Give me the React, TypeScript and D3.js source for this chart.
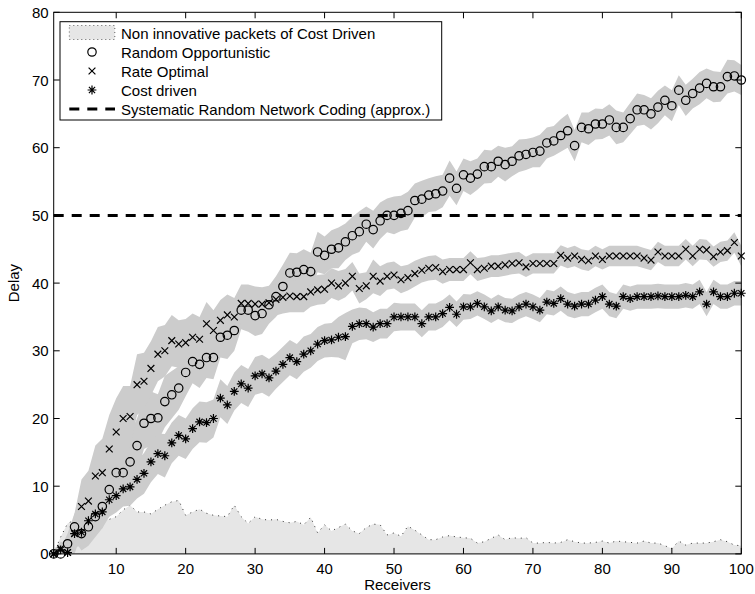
import React from "react";
import * as d3 from "d3";

const receivers = d3.range(1, 101);

const randomOpportunistic = [
  0, 0, 1.5, 4, 3, 4, 5.5, 7, 9.5, 12,
  12, 13.6, 16, 19.3, 20, 20.1, 22.5, 23.5, 24.5, 26.8,
  28.4, 28, 29, 29, 32, 32.3, 33, 36, 36, 35.2,
  35.5, 36.8, 38, 39.5, 41.5, 41.6, 42, 41.7, 44.6, 44.1,
  45, 45.2, 46.1, 47, 47.6, 48.7, 47.9, 49.2, 50, 50,
  50.3, 50.7, 52.2, 52.4, 53, 53.2, 53.6, 55.5, 54, 56,
  55.5, 56.1, 57.2, 57.2, 58, 57.5, 58, 58.8, 59, 59.3,
  59.5, 60.7, 61, 61.8, 62.5, 60.3, 63, 62.8, 63.5, 63.5,
  64.1, 63, 63, 64.3, 65.6, 65.6, 65, 66, 67, 66.2,
  68.5, 67, 68, 68.8, 69.5, 69, 69, 70.5, 70.6, 70,
];

const rateOptimal = [
  0, 0.8, 0.2, 3, 7, 7.8, 11.5, 12, 15.5, 18,
  20, 20.3, 25, 25.5, 27.4, 29.5, 30, 31.5, 31, 31.2,
  32, 31.7, 34, 33, 34.5, 35.3, 35, 37, 37, 36.9,
  36.9, 37.1, 37.6, 37.9, 38.1, 38, 38, 38.7, 39, 39.1,
  40, 39.6, 40, 41, 39.2, 39.6, 41, 40.3, 41, 41.2,
  40.5, 40.8, 41.4, 41.9, 42.2, 42.3, 41.7, 42, 42, 42,
  43, 42, 42.2, 42.5, 42.5, 42.7, 42.9, 43, 42.4, 42.9,
  42.9, 42.9, 42.9, 44.1, 43.7, 44, 43.5, 43.3, 44, 43.5,
  44, 44, 44, 44, 44, 43.7, 43.4, 44.6, 44, 44,
  44, 45, 44, 45, 44.9, 43.9, 44.6, 44.8, 46, 44,
];

const costDriven = [
  0, 0.6, 0.2, 3, 3.2, 4.9, 5.9, 6.2, 8, 8.6,
  9.6, 9.9, 11, 11.9, 13.6, 14.8, 14.5, 16.4, 17.5, 17,
  18.5, 19.5, 19.4, 20, 23, 22, 24, 25.1, 24.5, 26.3,
  26.6, 26, 27, 28, 29, 28.4, 29.5, 30, 31, 31.5,
  31.6, 32, 32.1, 33.6, 34, 34, 33.5, 34, 34, 35,
  35, 35, 35, 34, 35, 35, 35.5, 36.4, 35.4, 36.5,
  36.5, 37, 36.5, 35.9, 36.5, 36, 35.9, 36.5, 36.9, 36.5,
  36, 37.2, 37, 37.7, 36.9, 36.6, 36.9, 36.9, 37.5, 38,
  36.9, 36.6, 38, 37.7, 38, 38, 38, 38.1, 38, 38,
  38, 38.2, 38, 38.7, 36.9, 38.7, 38, 38, 38.5, 38.5,
];

const nonInnovative = [
  0, 2.5, 4.5, 5, 5.5, 5, 5, 4.9, 5.1, 5.5,
  6.5, 7.2, 6.2, 6.2, 5.9, 6.6, 7.2, 7.7, 7.9, 5.7,
  6.2, 6.6, 6, 5.7, 5.6, 5.5, 7.2, 5.5, 4.5, 5.5,
  5.1, 5, 5.1, 4.8, 4.6, 4.8, 4.3, 5.4, 3.1, 4.3,
  3.4, 3.9, 4.4, 3.4, 3.0, 3.9, 4.4, 4.3, 2.8, 3.1,
  2.6, 4.1, 3.5, 2.8, 2.1, 2.1, 2.5, 2.7, 2.5, 2.4,
  2.3, 1.6, 1.8, 2.3, 2.8, 2.1, 2.4, 2.3, 2.4, 1.6,
  1.6, 1.7, 1.6, 1.7, 2.1, 1.8, 1.6, 1.6, 1.7, 1.9,
  1.6, 1.9, 1.8, 1.7, 1.6, 1.9, 1.6, 1.6, 1.2, 0.8,
  1.9, 1.3, 1.6, 1.6, 1.6, 1.8, 2.1, 1.8, 1.3, 1.2,
];

const randomOpportunisticSpread = [
  0.3, 0.8, 1.5, 2, 2.5, 2.8, 3, 3.2, 3.5, 3.8,
  4, 4.2, 4, 3.8, 4, 3.5, 3.8, 3.5, 3.2, 3.5,
  3.2, 3.5, 3, 3.2, 3, 3.5, 3, 2.8, 3.2, 3,
  3, 2.8, 3, 3.2, 3, 2.8, 3, 2.8, 3, 2.8,
  2.8, 3, 2.7, 2.8, 3, 2.6, 2.8, 2.7, 2.5, 2.8,
  2.6, 2.8, 2.5, 2.7, 2.5, 2.6, 2.4, 2.6, 2.5, 2.4,
  2.5, 2.3, 2.5, 2.4, 2.3, 2.5, 2.2, 2.4, 2.3, 2.2,
  2.4, 2.3, 2.2, 2.4, 2.5, 2.3, 2.2, 2.4, 2.3, 2.2,
  2.3, 2.5, 2.2, 2.3, 2.4, 2.2, 2.3, 2.4, 2.2, 2.3,
  2.2, 2.3, 2.2, 2.4, 2.2, 2.3, 2.2, 2.5, 2.3, 2.2,
];

const rateOptimalSpread = [
  0.5, 1, 1.5, 3, 4, 4.5, 4.5, 5, 5, 5,
  4.8, 4.5, 4.5, 4.2, 4, 4, 3.8, 3.8, 3.5, 3.5,
  3.5, 3.3, 3.2, 3, 3, 3, 2.8, 2.8, 2.8, 2.6,
  2.5, 2.5, 2.4, 2.4, 2.4, 2.3, 2.3, 2.2, 2.2, 2.2,
  2.2, 2.2, 2.1, 2.1, 2.2, 2, 2.5, 2.2, 2, 2,
  2, 1.9, 1.9, 1.8, 1.8, 1.8, 1.8, 1.7, 1.7, 1.7,
  1.7, 1.7, 1.6, 1.6, 1.6, 1.6, 1.6, 1.6, 1.5, 1.5,
  1.5, 1.5, 1.5, 1.5, 1.5, 1.5, 1.5, 1.5, 1.5, 1.5,
  1.5, 1.5, 1.5, 1.5, 1.5, 1.5, 1.5, 1.5, 1.5, 1.5,
  1.5, 1.5, 1.5, 1.5, 1.5, 1.5, 1.5, 1.5, 1.5, 1.5,
];

const costDrivenSpread = [
  0.5, 1, 1.5, 2, 2, 2.2, 2.2, 2.4, 2.5, 2.5,
  2.6, 2.8, 2.8, 3, 3, 3, 3.2, 3, 3, 3,
  3, 3, 3, 2.8, 2.8, 2.8, 2.8, 2.8, 2.8, 2.8,
  2.8, 2.8, 2.6, 2.6, 2.6, 2.6, 2.6, 2.5, 2.5, 2.5,
  2.5, 3, 3.5, 2.5, 2.4, 2.3, 2.2, 2.2, 2.2, 2.1,
  2, 2, 2, 2, 2, 2, 2, 1.9, 1.9, 1.9,
  1.8, 1.8, 1.8, 1.8, 1.8, 1.8, 1.8, 1.8, 1.8, 1.8,
  1.8, 1.8, 1.8, 1.8, 1.8, 1.8, 1.8, 1.8, 1.8, 1.8,
  1.8, 1.8, 1.8, 1.8, 1.8, 1.8, 1.8, 1.8, 1.8, 1.8,
  1.8, 1.8, 1.8, 1.8, 1.8, 1.8, 1.8, 1.8, 1.8, 1.8,
];

const systematicRNC = 50;
const xTicks = [10, 20, 30, 40, 50, 60, 70, 80, 90, 100];
const yTicks = [0, 10, 20, 30, 40, 50, 60, 70, 80];
const legendLabels = [
  "Non innovative packets of Cost Driven",
  "Random Opportunistic",
  "Rate Optimal",
  "Cost driven",
  "Systematic Random Network Coding (approx.)",
];

const W = 755;
const H = 594;
const L = 53.7, R = 741.3, T = 12.3, B = 553.9;
const FONT = "'Liberation Sans', Arial, Helvetica, sans-serif";

export default function App() {
  const x = d3.scaleLinear().domain([1, 100]).range([L, R]);
  const y = d3.scaleLinear().domain([0, 80]).range([B, T]);

  const band = (vals: number[], sp: number[]) =>
    d3
      .area<number>()
      .x((_, i) => x(receivers[i]))
      .y0((d, i) => y(Math.max(0, d - sp[i])))
      .y1((d, i) => y(d + sp[i]))(vals) || "";

  const lightArea =
    d3
      .area<number>()
      .x((_, i) => x(receivers[i]))
      .y0(y(0))
      .y1((d) => y(d))(nonInnovative) || "";
  const lightLine =
    d3
      .line<number>()
      .x((_, i) => x(receivers[i]))
      .y((d) => y(d))(nonInnovative) || "";

  const circle = (cx: number, cy: number, k: string) => (
    <circle key={k} cx={cx} cy={cy} r={4.2} fill="none" stroke="#000" strokeWidth={1.2} />
  );
  const cross = (cx: number, cy: number, k: string) => {
    const s = 3.4;
    return (
      <path
        key={k}
        d={`M${cx - s},${cy - s}L${cx + s},${cy + s}M${cx - s},${cy + s}L${cx + s},${cy - s}`}
        stroke="#000"
        strokeWidth={1.2}
      />
    );
  };
  const star = (cx: number, cy: number, k: string) => {
    const s = 4.4;
    const d = 3.1;
    return (
      <path
        key={k}
        d={`M${cx - s},${cy}L${cx + s},${cy}M${cx},${cy - s}L${cx},${cy + s}M${cx - d},${cy - d}L${cx + d},${cy + d}M${cx - d},${cy + d}L${cx + d},${cy - d}`}
        stroke="#000"
        strokeWidth={1.2}
      />
    );
  };

  const legendY = [33, 52, 71, 90, 109];
  const legendTextX = 121;
  const legendMarkX = 92;

  return (
    <div style={{ position: "absolute", left: 0, top: 0 }}>
      <svg width={W} height={H} style={{ display: "block", background: "#fff" }}>
        <rect x={0} y={0} width={W} height={H} fill="#fff" />
        <path d={lightArea} fill="#e6e6e6" />
        <path d={lightLine} fill="none" stroke="#000" strokeWidth={0.8} strokeDasharray="1,5" />
        <path d={band(randomOpportunistic, randomOpportunisticSpread)} fill="#cccccc" />
        <path d={band(rateOptimal, rateOptimalSpread)} fill="#cccccc" />
        <path d={band(costDriven, costDrivenSpread)} fill="#cccccc" />
        <line
          x1={x(1)}
          x2={x(100)}
          y1={y(systematicRNC)}
          y2={y(systematicRNC)}
          stroke="#000"
          strokeWidth={3}
          strokeDasharray="10,8"
        />
        {randomOpportunistic.map((v, i) => circle(x(receivers[i]), y(v), "c" + i))}
        {rateOptimal.map((v, i) => cross(x(receivers[i]), y(v), "x" + i))}
        {costDriven.map((v, i) => star(x(receivers[i]), y(v), "s" + i))}

        {/* axes box */}
        <rect x={L} y={T} width={R - L} height={B - T} fill="none" stroke="#000" strokeWidth={1} />
        {xTicks.map((t) => (
          <g key={"xt" + t}>
            <line x1={x(t)} x2={x(t)} y1={B} y2={B - 6} stroke="#000" />
            <line x1={x(t)} x2={x(t)} y1={T} y2={T + 6} stroke="#000" />
            <text x={x(t)} y={574} textAnchor="middle" fontFamily={FONT} fontSize={15}>
              {t}
            </text>
          </g>
        ))}
        {yTicks.map((t) => (
          <g key={"yt" + t}>
            <line x1={L} x2={L + 6} y1={y(t)} y2={y(t)} stroke="#000" />
            <line x1={R} x2={R - 6} y1={y(t)} y2={y(t)} stroke="#000" />
            <text x={L - 5} y={y(t) + 5.5} textAnchor="end" fontFamily={FONT} fontSize={15}>
              {t}
            </text>
          </g>
        ))}
        <text x={(L + R) / 2} y={590} textAnchor="middle" fontFamily={FONT} fontSize={15}>
          Receivers
        </text>
        <text
          transform={`translate(19,${(T + B) / 2}) rotate(-90)`}
          textAnchor="middle"
          fontFamily={FONT}
          fontSize={15}
        >
          Delay
        </text>

        {/* legend */}
        <rect x={60} y={21.7} width={381.7} height={98.3} fill="#fff" stroke="#000" strokeWidth={1} />
        <rect
          x={69.3}
          y={25.5}
          width={45.5}
          height={14}
          fill="#e6e6e6"
          stroke="#000"
          strokeWidth={0.6}
          strokeDasharray="1,3"
        />
        {circle(legendMarkX, legendY[1], "lc")}
        {cross(legendMarkX, legendY[2], "lx")}
        {star(legendMarkX, legendY[3], "ls")}
        <line
          x1={69.3}
          x2={115}
          y1={legendY[4]}
          y2={legendY[4]}
          stroke="#000"
          strokeWidth={3}
          strokeDasharray="10,8"
        />
        {legendLabels.map((l, i) => (
          <text key={"lg" + i} x={legendTextX} y={legendY[i] + 5.5} fontFamily={FONT} fontSize={15}>
            {l}
          </text>
        ))}
      </svg>
    </div>
  );
}
